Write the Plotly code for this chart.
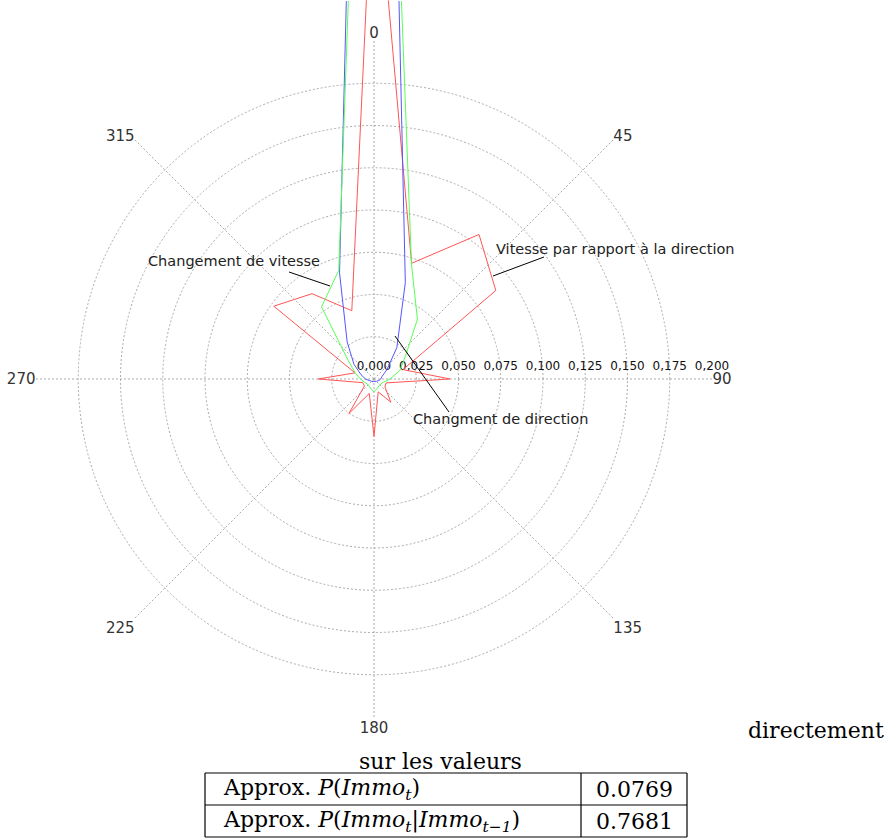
import math
import plotly.graph_objects as go

W, H = 887, 839

# 20 direction sectors, 18 degrees apart
directions = list(range(0, 360, 18))

vitesse_direction = [0.32, 0.072, 0.1057, 0.0891, 0.018, 0.045, 0.0075, 0.008, 0.017, 0.008,
                     0.034, 0.009, 0.0253, 0.007, 0.007, 0.033, 0.0118, 0.0733, 0.0624, 0.0425]
changement_direction = [0.88, 0.060, 0.023, 0.0095, 0.005, 0.004, 0.003, 0.002, 0.002, 0.0015,
                        0.0015, 0.0015, 0.002, 0.002, 0.003, 0.005, 0.008, 0.0146, 0.027, 0.066]
changement_vitesse = [0.65, 0.0717, 0.0437, 0.023, 0.016, 0.0095, 0.006, 0.005, 0.005, 0.006,
                      0.0075, 0.006, 0.005, 0.005, 0.006, 0.008, 0.0117, 0.019, 0.0528, 0.0675]

radial_ticks = [0.0, 0.025, 0.05, 0.075, 0.1, 0.125, 0.15, 0.175, 0.2]
angle_ticks = [0, 45, 90, 135, 180, 225, 270, 315]

table_labels = ["Approx. <i>P</i>(<i>Immo<sub>t</sub></i>)",
                "Approx. <i>P</i>(<i>Immo<sub>t</sub></i>|<i>Immo<sub>t\u22121</sub></i>)"]
table_values = ["0.0769", "0.7681"]

series = [
    ("Vitesse par rapport à la direction", vitesse_direction, "#FF5555"),
    ("Changment de direction", changement_direction, "#5555FF"),
    ("Changement de vitesse", changement_vitesse, "#55FF55"),
]

# Plot geometry (pixels): polar centre and radius of the 0.200 ring
CX, CY, R = 374, 379, 338
R_MAX = 0.2


def px(x, y):
    """Pixel position -> paper coordinates (margins are zero)."""
    return x / W, 1 - y / H


def domain_for(radius, bbox):
    """Paper domain holding a sector whose bounding box (unit circle) is bbox."""
    bx0, by0, bx1, by1 = bbox
    left, right = CX + bx0 * radius, CX + bx1 * radius
    top, bottom = CY - by1 * radius, CY - by0 * radius
    return dict(x=[left / W, right / W], y=[1 - bottom / H, 1 - top / H])


s45 = math.sqrt(0.5)
# polar  : full grid, labels, no data
# polar2 : upper wedge (45..135 deg on screen) reaching the top edge of the page
# polar3 : remaining 270 degrees, same scale as the grid
R_TOP = CY
wedge_dom = domain_for(R_TOP, (-s45, 0, s45, 1))
rest_dom = domain_for(R, (-1, -1, 1, s45))
grid_dom = domain_for(R, (-1, -1, 1, 1))

fig = go.Figure()
# invisible anchor so the grid subplot gets rendered
fig.add_trace(go.Scatterpolar(r=[0], theta=[0], mode="markers", marker=dict(opacity=0),
                              showlegend=False, hoverinfo="skip", subplot="polar"))
for sub in ("polar2", "polar3"):
    for name, vals, color in series:
        fig.add_trace(go.Scatterpolar(
            r=vals + vals[:1],
            theta=directions + directions[:1],
            mode="lines",
            line=dict(color=color, width=1),
            name=name,
            showlegend=False,
            hoverinfo="skip",
            subplot=sub,
        ))

grid_color = "#ababab"
grid_dash = "2px,2px"

hidden_radial = dict(showline=False, showgrid=False, showticklabels=False, ticks="")
hidden_angular = dict(rotation=90, direction="clockwise", showline=False, showgrid=False,
                      showticklabels=False, ticks="")

fig.update_layout(
    width=W, height=H,
    margin=dict(l=0, r=0, t=0, b=0),
    paper_bgcolor="white",
    plot_bgcolor="white",
    separators=", ",
    font=dict(family="DejaVu Sans", size=14, color="#222"),
    polar=dict(
        domain=grid_dom,
        bgcolor="white",
        radialaxis=dict(
            range=[0, R_MAX],
            tickvals=radial_ticks,
            tickformat=".3f",
            showline=False,
            ticks="outside",
            ticklen=4,
            tickcolor="rgba(0,0,0,0)",
            side="counterclockwise",
            angle=0,
            showgrid=True,
            gridcolor=grid_color,
            griddash=grid_dash,
            gridwidth=1,
            tickfont=dict(family="DejaVu Sans", size=12, color="#111"),
        ),
        angularaxis=dict(
            rotation=90,
            direction="clockwise",
            tickvals=angle_ticks,
            ticktext=[str(a) for a in angle_ticks],
            showline=False,
            ticks="",
            showgrid=True,
            gridcolor=grid_color,
            griddash=grid_dash,
            gridwidth=1,
            tickfont=dict(family="DejaVu Sans", size=15, color="#333"),
        ),
    ),
    polar2=dict(
        domain=wedge_dom,
        sector=[45, 135],
        bgcolor="rgba(0,0,0,0)",
        radialaxis=dict(range=[0, R_MAX * R_TOP / R], **hidden_radial),
        angularaxis=hidden_angular,
    ),
    polar3=dict(
        domain=rest_dom,
        sector=[135, 405],
        bgcolor="rgba(0,0,0,0)",
        radialaxis=dict(range=[0, R_MAX], **hidden_radial),
        angularaxis=hidden_angular,
    ),
)

# Series callouts: label text plus a thin black pointer line
callouts = [
    ("Changement de vitesse", (234.5, 261), (289, 272), (330, 286)),
    ("Vitesse par rapport à la direction", (614.5, 249), (544, 257), (493, 276)),
    ("Changment de direction", (500.5, 419), (395, 336), (449, 412)),
]
shapes = []
annotations = []
for text, (tx, ty), (ax0, ay0), (ax1, ay1) in callouts:
    x, y = px(tx, ty)
    annotations.append(dict(text=text, x=x, y=y, xref="paper", yref="paper",
                            showarrow=False, xanchor="center", yanchor="middle",
                            font=dict(family="DejaVu Sans", size=14.5, color="#222")))
    ax_a, ay_a = px(ax0, ay0)
    ax_b, ay_b = px(ax1, ay1)
    shapes.append(dict(type="line", xref="paper", yref="paper",
                       x0=ax_a, y0=ay_a, x1=ax_b, y1=ay_b,
                       line=dict(color="black", width=1)))

serif = dict(family="DejaVu Serif", size=22, color="black")

# Caption text around the table
for text, (tx, ty) in [("directement", (816, 730)), ("sur les valeurs", (440, 761))]:
    x, y = px(tx, ty)
    annotations.append(dict(text=text, x=x, y=y, xref="paper", yref="paper",
                            showarrow=False, xanchor="center", yanchor="middle", font=serif))

# Two-row table drawn with rules and text
t_left, t_mid, t_right = 205, 581, 687
row_edges = [773, 805, 837]
for yy in row_edges:
    a, b = px(t_left, yy)
    c, _ = px(t_right, yy)
    shapes.append(dict(type="line", xref="paper", yref="paper", x0=a, y0=b, x1=c, y1=b,
                       line=dict(color="black", width=1.2)))
for xx in (t_left, t_mid, t_right):
    a, b = px(xx, row_edges[0])
    _, d = px(xx, row_edges[-1])
    shapes.append(dict(type="line", xref="paper", yref="paper", x0=a, y0=b, x1=a, y1=d,
                       line=dict(color="black", width=1.2)))

for i, (lab, val) in enumerate(zip(table_labels, table_values)):
    yc = (row_edges[i] + row_edges[i + 1]) / 2
    x, y = px(t_left + 16, yc)
    annotations.append(dict(text=lab, x=x, y=y, xref="paper", yref="paper", showarrow=False,
                            xanchor="left", yanchor="middle", font=serif))
    x, y = px((t_mid + t_right) / 2, yc)
    annotations.append(dict(text=val, x=x, y=y, xref="paper", yref="paper", showarrow=False,
                            xanchor="center", yanchor="middle", font=serif))

fig.update_layout(shapes=shapes, annotations=annotations)

fig.write_html("out.html")
